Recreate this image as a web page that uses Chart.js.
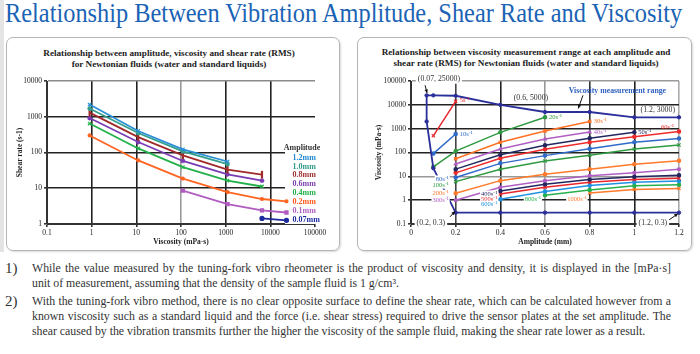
<!DOCTYPE html>
<html>
<head>
<meta charset="utf-8">
<script src="https://cdn.jsdelivr.net/npm/chart.js@4.4.1/dist/chart.umd.min.js"></script>
<style>
html, body { margin: 0; padding: 0; background: #fff; }
body { width: 700px; height: 354px; position: relative; overflow: hidden; font-family: "Liberation Serif", serif; }
#edge { position: absolute; left: 0; top: 0; width: 4px; height: 252px; background: #e4e4e4; }
#title { position: absolute; left: 5px; top: 0; font-size: 27px; line-height: 1; color: #1b63b5; white-space: nowrap; transform-origin: 0 0; }
.panel { position: absolute; top: 37px; height: 214px; border: 1.5px solid #b5b5b5; border-radius: 7px; box-sizing: border-box; box-shadow: 1px 1px 2px #d8d8d8; }
.ptitle { position: absolute; font-weight: bold; font-size: 9.2px; line-height: 11px; text-align: center; color: #222; white-space: nowrap; }
canvas { position: absolute; }
.num { position: absolute; left: 5px; font-size: 15px; line-height: 15px; color: #333; }
.ln { position: absolute; left: 32px; width: 639px; font-size: 11.8px; line-height: 15px; white-space: nowrap; color: #333; }
.j { text-align: justify; text-align-last: justify; }
</style>
</head>
<body>
<div id="edge"></div>
<div id="title">Relationship Between Vibration Amplitude, Shear Rate and Viscosity</div>

<div class="panel" style="left:6px;width:334px"></div>
<div class="panel" style="left:357px;width:335px"></div>

<div class="ptitle" style="left:0;width:338px;top:48px">Relationship between amplitude, viscosity and shear rate (RMS)<br>for Newtonian fluids (water and standard liquids)</div>
<div class="ptitle" style="left:357px;width:338px;top:47px">Relationship between viscosity measurement range at each amplitude and<br>shear rate (RMS) for Newtonian fluids (water and standard liquids)</div>

<canvas id="leftChart" width="334" height="213" style="left:6px;top:37px"></canvas>
<canvas id="rightChart" width="335" height="213" style="left:357px;top:37px"></canvas>

<div class="num" style="top:261px">1)</div>
<div class="ln j" style="top:261px">While the value measured by the tuning-fork vibro rheometer is the product of viscosity and density, it is displayed in the [mPa·s]</div>
<div class="ln" style="top:276px">unit of measurement, assuming that the density of the sample fluid is 1 g/cm³.</div>
<div class="num" style="top:294px">2)</div>
<div class="ln j" style="top:294px">With the tuning-fork vibro method, there is no clear opposite surface to define the shear rate, which can be calculated however from a</div>
<div class="ln j" style="top:309px">known viscosity such as a standard liquid and the force (i.e. shear stress) required to drive the sensor plates at the set amplitude. The</div>
<div class="ln" style="top:324px">shear caused by the vibration transmits further the higher the viscosity of the sample fluid, making the shear rate lower as a result.</div>

<script>
// ---------- left chart data ----------
let viscosity = [0.9, 11, 110, 1100, 6500, 23000];
let amplitudeNames = ["1.2mm", "1.0mm", "0.8mm", "0.6mm", "0.4mm", "0.2mm", "0.1mm", "0.07mm"];
let shear12 = [2200, 400, 123, 56, null, null];
let shear10 = [1700, 350, 108, 47, null, null];
let shear08 = [1300, 270, 83, 33, 24, null];
let shear06 = [920, 196, 58, 24.5, 16.4, null];
let shear04 = [645, 130, 39, 16.4, 11.2, null];
let shear02 = [300, 60, 18.6, 7.8, 5.0, 4.3];
let shear01 = [null, null, 8.6, 3.6, 2.4, 2.1];
let shear007 = [null, null, null, null, 1.43, 1.27];
let leftXTicks = [0.1, 1, 10, 100, 1000, 10000, 100000];
let leftXLabels = ["0.1", "1", "10", "100", "1000", "10000", "100000"];
let leftYTicks = [1, 10, 100, 1000, 10000];
let leftYLabels = ["1", "10", "100", "1000", "10000"];

// ---------- right chart data ----------
let amplitude = [0.1, 0.2, 0.4, 0.6, 0.8, 1.0, 1.2];
let rateNames = ["5s⁻¹", "10s⁻¹", "20s⁻¹", "30s⁻¹", "40s⁻¹", "50s⁻¹", "60s⁻¹", "80s⁻¹", "100s⁻¹", "200s⁻¹", "300s⁻¹", "400s⁻¹", "500s⁻¹", "600s⁻¹", "800s⁻¹", "1000s⁻¹"];
let rate5 = [500, 14000, null, null, null, null, null];
let rate10 = [90, 600, null, null, null, null, null];
let rate20 = [25, 115, 700, 3000, null, null, null];
let rate30 = [null, 55, 267, 800, 2000, null, null];
let rate40 = [null, 33, 140, 365, 720, null, null];
let rate50 = [null, 20, 81, 200, 400, 700, null];
let rate60 = [null, 14, 57, 136, 267, 460, 760];
let rate80 = [null, 9, 35, 74, 145, 267, 390];
let rate100 = [null, 6, 20, 44, 76, 140, 205];
let rate200 = [null, 1.95, 6.6, 12.3, 20, 32, 45];
let rate300 = [null, 1.0, 3.5, 6.6, 10.7, 14, 20];
let rate400 = [null, null, 2.45, 4.7, 7.3, 9.5, 11.2];
let rate500 = [null, null, 1.8, 3.5, 5.7, 7.3, 8.3];
let rate600 = [null, null, 1.1, 2.3, 4.1, 5.6, 6.3];
let rate800 = [null, null, null, 1.6, 2.7, 4.0, 4.4];
let rate1000 = [null, null, null, null, 2.0, 2.8, 3.1];
let rangeX = [1.2, 1.0, 0.8, 0.6, 0.4, 0.2, 0.1, 0.07, 0.07, 0.1, 0.2, 0.4, 0.6, 0.8, 1.0, 1.2];
let rangeY = [0.3, 0.3, 0.3, 0.3, 0.3, 0.3, 22, 2000, 25000, 25000, 24000, 10000, 5000, 5000, 3000, 3000];
let rightXTicks = [0, 0.2, 0.4, 0.6, 0.8, 1.0, 1.2];
let rightXLabels = ["0", "0.2", "0.4", "0.6", "0.8", "1", "1.2"];
let rightYTicks = [0.1, 1, 10, 100, 1000, 10000, 100000];
let rightYLabels = ["0.1", "1", "10", "100", "1000", "10000", "100000"];

// ---------- styles ----------
let serif = '"Liberation Serif", serif';
Chart.defaults.font.family = serif;
Chart.defaults.color = "#222";

let ampColors = ["#2a8fd6", "#34a08c", "#a02a2a", "#7a3cb4", "#22b04a", "#ff6420", "#b05cc0", "#1c2a9c"];
let ampText = ["#1f86d0", "#2f9a88", "#a03030", "#7a40b0", "#20b048", "#ff5a1a", "#b060c0", "#1c2aa0"];
let ampMarks = ["crossRot", "star", "line", "star", "crossRot", "circle", "rect", "circle"];
let ampRadius = [2.4, 2.4, 3.8, 2.4, 2.4, 1.5, 2.2, 2];

let rateColors = ["#e8262c", "#2f6bc9", "#2f9a40", "#ff7224", "#b05fc2", "#23275f", "#ef2b2b", "#2f6bc9", "#2f9a40", "#ff7a2a", "#b05fc2", "#23275f", "#e8262c", "#1f92e0", "#27b04c", "#ff7a2a"];
let rateMarks = ["crossRot", "circle", "circle", "rect", "triangle", "circle", "circle", "circle", "crossRot", "circle", "rect", "circle", "crossRot", "circle", "circle", "crossRot"];
let ratePlace = [
  { at: 1, side: "r", dx: 4, dy: -1 },
  { at: 1, side: "r", dx: 4, dy: 0 },
  { at: 3, side: "r", dx: 4, dy: 0 },
  { at: 4, side: "r", dx: 4, dy: 0 },
  { at: 4, side: "r", dx: 4, dy: 0 },
  { at: 5, side: "r", dx: 4, dy: 0 },
  { at: 6, side: "l", dx: 5, dy: -4.5 },
  { at: 1, side: "l", dx: 7, dy: 1.5 },
  { at: 1, side: "l", dx: 7, dy: 3.5 },
  { at: 1, side: "l", dx: 7, dy: 0 },
  { at: 1, side: "l", dx: 7, dy: 0 },
  { at: 2, side: "l", dx: 3, dy: 3 },
  { at: 2, side: "l", dx: 3, dy: 5 },
  { at: 2, side: "l", dx: 3, dy: 5 },
  { at: 3, side: "l", dx: 4, dy: 4 },
  { at: 4, side: "l", dx: 3, dy: 6 }
];

function pts(xs, ys) {
  return xs.map((x, i) => ({ x: x, y: ys[i] })).filter(p => p.y != null);
}

function fixedTicks(values) {
  return scale => { scale.ticks = values.map(v => ({ value: v })); };
}

// y axis title drawn by hand so it sits where the original puts it
function yTitle(text, x) {
  return {
    id: "yTitle",
    afterDraw(chart) {
      let { ctx, chartArea } = chart;
      ctx.save();
      ctx.translate(x, (chartArea.top + chartArea.bottom) / 2);
      ctx.rotate(-Math.PI / 2);
      ctx.font = "bold 7.5px " + serif;
      ctx.fillStyle = "#222";
      ctx.textAlign = "center";
      ctx.textBaseline = "middle";
      ctx.fillText(text, 0, 0);
      ctx.restore();
    }
  };
}

// fit the main title across the page
let title = document.getElementById("title");
title.style.transform = "scaleX(" + (677 / title.scrollWidth) + ")";

// ---------- left chart ----------
let leftGridX = ["#333", "#222", "#222", "#9a9a9a", "#222", "#222", "rgba(0,0,0,0)"];
let leftGridY = ["#333", "#222", "#222", "#222", "#8a8a8a"];

let ampLegend = {
  id: "ampLegend",
  beforeDatasetsDraw(chart) {
    let { ctx, chartArea } = chart;
    ctx.save();
    ctx.fillStyle = "#fff";
    ctx.fillRect(chartArea.right - 30, chartArea.top + 59, 40, chartArea.bottom - chartArea.top - 59);
    ctx.textBaseline = "middle";
    ctx.font = "bold 8px " + serif;
    ctx.fillStyle = "#333";
    ctx.textAlign = "center";
    ctx.fillText("Amplitude", chartArea.right - 13, chartArea.top + 66.5);
    ctx.textAlign = "left";
    amplitudeNames.forEach((name, i) => {
      ctx.fillStyle = ampText[i];
      ctx.fillText(name, chartArea.right - 22.5, chartArea.top + 76.6 + i * 8.9);
    });
    ctx.restore();
  }
};

let shearSeries = [shear12, shear10, shear08, shear06, shear04, shear02, shear01, shear007];

new Chart(document.getElementById("leftChart"), {
  type: "scatter",
  data: {
    datasets: shearSeries.map((s, i) => ({
      label: amplitudeNames[i],
      data: pts(viscosity, s),
      showLine: true,
      borderColor: ampColors[i],
      backgroundColor: ampColors[i],
      borderWidth: 1.8,
      pointStyle: ampMarks[i],
      pointRotation: ampMarks[i] === "line" ? 90 : 0,
      pointRadius: ampRadius[i],
      pointBorderWidth: ampMarks[i] === "line" ? 2.2 : 1.2,
      clip: false
    }))
  },
  options: {
    responsive: false,
    animation: false,
    events: [],
    layout: { padding: { top: 44, right: 25, left: 0, bottom: 0 } },
    plugins: { legend: { display: false }, tooltip: { enabled: false } },
    scales: {
      x: {
        type: "logarithmic",
        min: 0.1,
        max: 100000,
        afterBuildTicks: fixedTicks(leftXTicks),
        afterFit: s => { s.height = 26; },
        ticks: { autoSkip: false, maxRotation: 0, padding: 2, font: { size: 7.5 }, callback: (v, i) => leftXLabels[i] },
        grid: { color: c => leftGridX[c.index], lineWidth: 1.6, tickLength: 3, tickColor: "#333" },
        border: { color: "#333", width: 1 },
        title: { display: true, text: "Viscosity (mPa-s)", font: { size: 7.5, weight: "bold" }, padding: { top: 0, bottom: 3 } }
      },
      y: {
        type: "logarithmic",
        min: 1,
        max: 10000,
        afterBuildTicks: fixedTicks(leftYTicks),
        afterFit: s => { s.width = 41; },
        ticks: { autoSkip: false, padding: 2, font: { size: 7.5 }, callback: (v, i) => leftYLabels[i] },
        grid: { color: c => leftGridY[c.index], lineWidth: 1.6, tickLength: 3, tickColor: "#333" },
        border: { color: "#333", width: 1 }
      }
    }
  },
  plugins: [ampLegend, yTitle("Shear rate (s-1)", 14.5)]
});

// ---------- right chart ----------
let rightGridX = ["#333", "#444", "#222", "#999", "#333", "#222", "#aaa"];
let rightGridY = ["#333", "#222", "#999", "#222", "#222", "#222", "#999"];

let rateSeries = [rate5, rate10, rate20, rate30, rate40, rate50, rate60, rate80, rate100, rate200, rate300, rate400, rate500, rate600, rate800, rate1000];

let notes = [
  { text: "(0.07, 25000)", x: 0.125, y: 119000, bg: true },
  { text: "(0.6, 5000)", x: 0.537, y: 19600 },
  { text: "Viscosity measurement range", x: 0.924, y: 38500, bold: true, color: "#2d5fc0" },
  { text: "(1.2, 3000)", x: 1.105, y: 6400 },
  { text: "(0.2, 0.3)", x: 0.089, y: 0.115, bg: true },
  { text: "(1.2, 0.3)", x: 1.083, y: 0.115, bg: true }
];
let arrows = [
  [0.063, 66000, 0.072, 31000],
  [0.77, 25000, 0.749, 7100],
  [0.175, 0.2, 0.197, 0.34],
  [1.156, 0.15, 1.195, 0.27]
];

function arrow(ctx, x1, y1, x2, y2) {
  let a = Math.atan2(y2 - y1, x2 - x1);
  ctx.beginPath();
  ctx.moveTo(x1, y1);
  ctx.lineTo(x2, y2);
  ctx.stroke();
  ctx.beginPath();
  ctx.moveTo(x2, y2);
  ctx.lineTo(x2 - 4 * Math.cos(a - 0.45), y2 - 4 * Math.sin(a - 0.45));
  ctx.lineTo(x2 - 4 * Math.cos(a + 0.45), y2 - 4 * Math.sin(a + 0.45));
  ctx.closePath();
  ctx.fill();
}

let rangeNotes = {
  id: "rangeNotes",
  afterDatasetsDraw(chart) {
    let { ctx, scales } = chart;
    let x = scales.x, y = scales.y;
    ctx.save();
    ctx.textBaseline = "middle";

    // shear rate labels
    ctx.font = "6.5px " + serif;
    rateNames.forEach((name, k) => {
      let p = ratePlace[k];
      let px = x.getPixelForValue(amplitude[p.at]);
      let py = y.getPixelForValue(rateSeries[k][p.at]) + p.dy;
      let w = ctx.measureText(name).width;
      let tx = p.side === "r" ? px + p.dx : px - p.dx - w;
      if (p.side === "l" && p.at < 5) {
        ctx.fillStyle = "#fff";
        ctx.fillRect(tx - 1, py - 3.5, w + 2, 7);
      }
      ctx.fillStyle = rateColors[k];
      ctx.textAlign = "left";
      ctx.fillText(name, tx, py);
    });

    // range notes
    ctx.textAlign = "center";
    notes.forEach(n => {
      ctx.font = (n.bold ? "bold 7.8px " : "7.8px ") + serif;
      let px = x.getPixelForValue(n.x), py = y.getPixelForValue(n.y);
      let w = ctx.measureText(n.text).width;
      if (n.bg) {
        ctx.fillStyle = "#fff";
        ctx.fillRect(px - w / 2 - 2, py - 4.5, w + 4, 9);
      }
      ctx.fillStyle = n.color || "#333";
      ctx.fillText(n.text, px, py);
    });

    ctx.strokeStyle = "#111";
    ctx.fillStyle = "#111";
    ctx.lineWidth = 1;
    arrows.forEach(a => {
      arrow(ctx, x.getPixelForValue(a[0]), y.getPixelForValue(a[1]), x.getPixelForValue(a[2]), y.getPixelForValue(a[3]));
    });
    ctx.restore();
  }
};

let rightSets = [{
  label: "Viscosity measurement range",
  data: pts(rangeX, rangeY),
  showLine: true,
  borderColor: "#2b2f9a",
  backgroundColor: "#2b2f9a",
  borderWidth: 1.8,
  pointStyle: "circle",
  pointRadius: 1.7,
  pointBorderWidth: 1,
  clip: false
}];
rateSeries.forEach((s, k) => {
  rightSets.push({
    label: rateNames[k],
    data: pts(amplitude, s),
    showLine: true,
    borderColor: rateColors[k],
    backgroundColor: rateColors[k],
    borderWidth: 1.5,
    pointStyle: rateMarks[k],
    pointRadius: rateMarks[k] === "crossRot" ? 2.3 : 1.7,
    pointBorderWidth: 1.1,
    clip: false
  });
});

new Chart(document.getElementById("rightChart"), {
  type: "scatter",
  data: { datasets: rightSets },
  options: {
    responsive: false,
    animation: false,
    events: [],
    layout: { padding: { top: 44, right: 13, left: 0, bottom: 0 } },
    plugins: { legend: { display: false }, tooltip: { enabled: false } },
    scales: {
      x: {
        type: "linear",
        min: 0,
        max: 1.2,
        afterBuildTicks: fixedTicks(rightXTicks),
        afterFit: s => { s.height = 26; },
        ticks: { autoSkip: false, maxRotation: 0, padding: 2, font: { size: 7.5 }, callback: (v, i) => rightXLabels[i] },
        grid: { color: c => rightGridX[c.index], lineWidth: 1.6, tickLength: 3, tickColor: "#333" },
        border: { color: "#333", width: 1 },
        title: { display: true, text: "Amplitude (mm)", font: { size: 7.5, weight: "bold" }, padding: { top: 0, bottom: 3 } }
      },
      y: {
        type: "logarithmic",
        min: 0.1,
        max: 100000,
        afterBuildTicks: fixedTicks(rightYTicks),
        afterFit: s => { s.width = 54; },
        ticks: { autoSkip: false, padding: 2, font: { size: 7.5 }, callback: (v, i) => rightYLabels[i] },
        grid: { color: c => rightGridY[c.index], lineWidth: 1.6, tickLength: 3, tickColor: "#333" },
        border: { color: "#333", width: 1 }
      }
    }
  },
  plugins: [rangeNotes, yTitle("Viscosity (mPa-s)", 22)]
});
</script>
</body>
</html>
